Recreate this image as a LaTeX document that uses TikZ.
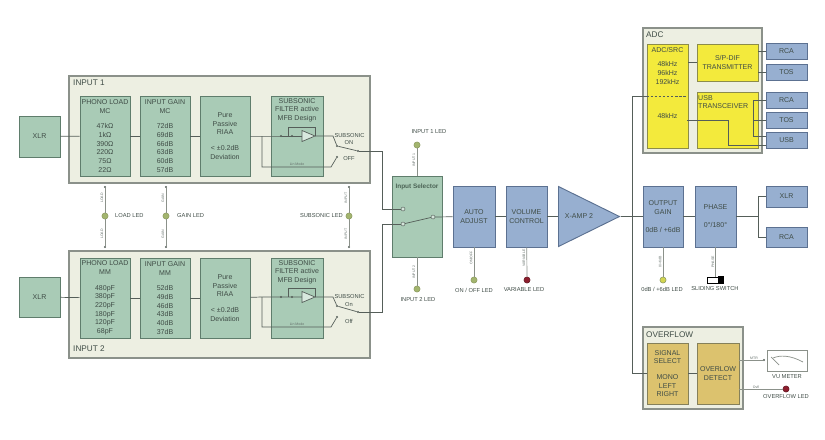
\documentclass[tikz,border=0pt]{standalone}
\usepackage{fontspec}
\setmainfont{Liberation Sans}
\usepackage{xcolor}
\usetikzlibrary{arrows.meta, calc, positioning, shapes.geometric}
\definecolor{mPanel}{HTML}{EDEFE2}
\definecolor{mPanelLine}{HTML}{8B918A}
\definecolor{mGreen}{HTML}{A9CBB6}
\definecolor{mGreenLine}{HTML}{5F7D6C}
\definecolor{mBlue}{HTML}{97AFD0}
\definecolor{mBlueLine}{HTML}{5C7191}
\definecolor{mYellow}{HTML}{F3EA3C}
\definecolor{mYellowLine}{HTML}{8C8C4A}
\definecolor{mTan}{HTML}{DCC26E}
\definecolor{mTanLine}{HTML}{85805A}
\definecolor{mWire}{HTML}{555E59}
\definecolor{mInk}{HTML}{3F4C46}
\definecolor{mLed}{HTML}{A3B56E}
\definecolor{mLedRed}{HTML}{8E1E2E}
\tikzset{
  panel/.style={draw=mPanelLine, fill=mPanel, line width=1pt, inner sep=0pt},
  txtbox/.style={align=center, text=mInk, inner sep=0pt, font=\fontsize{6}{7.4}\selectfont},
  greenbox/.style={txtbox, draw=mGreenLine, fill=mGreen, line width=0.8pt},
  bluebox/.style={txtbox, draw=mBlueLine, fill=mBlue, line width=0.8pt},
  yellowbox/.style={txtbox, draw=mYellowLine, fill=mYellow, line width=0.8pt},
  tanbox/.style={txtbox, draw=mTanLine, fill=mTan, line width=0.8pt},
  tallbox/.style={minimum width=1.5cm, minimum height=2.4cm},
  ledon/.style={circle, draw=mLed!85!black, fill=mLed, line width=0.5pt, minimum size=5.2pt, inner sep=0pt},
  ledred/.style={ledon, draw=mLedRed!70!black, fill=mLedRed},
  tag/.style={text=mInk, inner sep=0pt, font=\fontsize{4.9}{5.8}\selectfont},
  titletag/.style={text=mInk, inner sep=0pt, font=\fontsize{7}{8}\selectfont},
  nettag/.style={text=mInk!80, inner sep=0pt, rotate=90, font=\fontsize{3}{3.5}\selectfont},
  wiretag/.style={text=mInk!80, inner sep=0pt, font=\fontsize{3}{3.5}\selectfont},
  wire/.style={mWire, line width=0.6pt},
  ledwire/.style={mPanelLine, line width=0.6pt},
  dot/.style={circle, fill=mWire, minimum size=2pt, inner sep=0pt},
  pin/.style={circle, draw=mWire, fill=mGreen!50!white, line width=0.4pt, minimum size=3.4pt, inner sep=0pt}
}
\begin{document}
\begin{tikzpicture}[x=0.03cm, y=-0.03cm]
  \useasboundingbox (0,0) rectangle (825,439);
  % input panels
  \node[panel, minimum width=9.03cm, minimum height=3.21cm] (inA) at (219.5,129.5) {};
  \node[panel, minimum width=9.03cm, minimum height=3.21cm] (inB) at (219.5,304.5) {};
  \node[titletag, anchor=west] (inAname) at (73,83) {INPUT 1};
  \node[titletag, anchor=west] (inBname) at (73,349) {INPUT 2};
  % input 1 chain
  \node[greenbox, minimum width=1.23cm, minimum height=1.23cm] (xlrA) at (39.5,136.5) {XLR};
  \node[greenbox, tallbox] (loadA) at (105,136) {PHONO LOAD\\MC\\[6pt]47kΩ\\1kΩ\\390Ω\\220Ω\\75Ω\\22Ω};
  \node[greenbox, tallbox] (gainA) at (165,136) {INPUT GAIN\\MC\\[6pt]72dB\\69dB\\66dB\\63dB\\60dB\\57dB};
  \node[greenbox, tallbox] (riaaA) at (225,136) {Pure\\Passive\\RIAA\\[6pt]< ±0.2dB\\Deviation};
  \node[greenbox, tallbox, minimum width=1.56cm] (subsA) at (297,136) {};
  \node[txtbox, anchor=north] (subsAtxt) at (297,98) {SUBSONIC\\FILTER active\\MFB Design};
  % input 2 chain
  \node[greenbox, minimum width=1.23cm, minimum height=1.2cm] (xlrB) at (39.5,297) {XLR};
  \node[greenbox, tallbox] (loadB) at (105,298) {PHONO LOAD\\MM\\[6pt]480pF\\380pF\\220pF\\180pF\\120pF\\68pF};
  \node[greenbox, tallbox] (gainB) at (165,298) {INPUT GAIN\\MM\\[6pt]52dB\\49dB\\46dB\\43dB\\40dB\\37dB};
  \node[greenbox, tallbox] (riaaB) at (225,298) {Pure\\Passive\\RIAA\\[6pt]< ±0.2dB\\Deviation};
  \node[greenbox, tallbox, minimum width=1.56cm] (subsB) at (297,298) {};
  \node[txtbox, anchor=north] (subsBtxt) at (297,260) {SUBSONIC\\FILTER active\\MFB Design};
  % main path
  \node[greenbox, minimum width=1.5cm, minimum height=2.43cm] (select) at (417,216.5) {};
  \node[txtbox, font=\fontsize{5.5}{7}\selectfont\bfseries, text=mGreenLine!80!black] (selecttxt) at (417,187) {Input Selector};
  \node[bluebox, minimum width=1.26cm, minimum height=1.83cm] (auto) at (474,216.5) {AUTO\\ADJUST};
  \node[bluebox, minimum width=1.23cm, minimum height=1.83cm] (volume) at (526.5,216.5) {VOLUME\\CONTROL};
  \node[isosceles triangle, isosceles triangle stretches, draw=mBlueLine, fill=mBlue, line width=0.8pt,
        minimum width=1.8cm, minimum height=1.83cm, inner sep=0pt, anchor=lower side] (xamp) at (558,216.5) {};
  \node[txtbox] (xamptxt) at (579,216.5) {X-AMP 2};
  \node[bluebox, minimum width=1.2cm, minimum height=1.83cm] (outgain) at (663,216.5) {OUTPUT\\GAIN\\[8pt]0dB / +6dB};
  \node[bluebox, minimum width=1.23cm, minimum height=1.83cm] (phase) at (715.5,216.5) {PHASE\\[8pt]0°/180°};
  \node[bluebox, minimum width=1.23cm, minimum height=0.63cm] (xlrOut) at (786.5,196.5) {XLR};
  \node[bluebox, minimum width=1.23cm, minimum height=0.6cm] (rcaOut) at (786.5,237) {RCA};
  % adc
  \node[panel, minimum width=3.57cm, minimum height=3.75cm] (adc) at (702.5,90.5) {};
  \node[titletag, anchor=west] (adcname) at (646,35) {ADC};
  \node[yellowbox, minimum width=1.23cm, minimum height=3.12cm, anchor=north] (src) at (667.5,44) {};
  \node[txtbox, anchor=north] (srctxt) at (667.5,47) {ADC/SRC\\[5pt]48kHz\\96kHz\\192kHz};
  \node[txtbox] (srctxtB) at (667.5,116) {48kHz};
  \node[yellowbox, minimum width=1.83cm, minimum height=1.11cm] (spdif) at (727.5,62.5) {S/P-DIF\\TRANSMITTER};
  \node[yellowbox, minimum width=1.83cm, minimum height=1.68cm] (usb) at (727.5,120) {};
  \node[txtbox, anchor=north west, align=left] (usbtxt) at (698,95) {USB\\TRANSCEIVER};
  \node[bluebox, minimum width=1.23cm, minimum height=0.48cm] (rcaA) at (786.5,51.5) {RCA};
  \node[bluebox, minimum width=1.23cm, minimum height=0.48cm] (tosA) at (786.5,72) {TOS};
  \node[bluebox, minimum width=1.23cm, minimum height=0.48cm] (rcaB) at (786.5,100) {RCA};
  \node[bluebox, minimum width=1.23cm, minimum height=0.48cm] (tosB) at (786.5,120) {TOS};
  \node[bluebox, minimum width=1.23cm, minimum height=0.48cm] (usbOut) at (786.5,140.5) {USB};
  % overflow
  \node[panel, minimum width=3cm, minimum height=2.46cm] (over) at (693,368) {};
  \node[titletag, anchor=west] (overname) at (646,335) {OVERFLOW};
  \node[tanbox, minimum width=1.23cm, minimum height=1.83cm] (signal) at (667.5,373.5) {SIGNAL\\SELECT\\[6pt]MONO\\LEFT\\RIGHT};
  \node[tanbox, minimum width=1.26cm, minimum height=1.83cm] (detect) at (718,373.5) {OVERLOW\\DETECT};
  \node[draw=mPanelLine, fill=white, line width=0.7pt, minimum width=1.2cm, minimum height=0.63cm, inner sep=0pt] (vu) at (787,360.5) {};
  \node[tag] (vuname) at (787,377) {VU METER};
  % front end wires
  \draw[wire] (xlrA) -- (loadA);
  \draw[wire] (loadA) -- (gainA);
  \draw[wire] (gainA) -- (riaaA);
  \draw[wire] (xlrB) -- (loadB);
  \draw[wire] (loadB) -- (gainB);
  \draw[wire] (gainB) -- (riaaB);
  \node[pin] (selInA) at (403,209) {};
  \node[pin] (selInB) at (403,224) {};
  \node[pin] (selOut) at (433,217) {};
  % subsonic filter and its switch
  \foreach \sw/\mid/\low/\onp/\offp/\outp/\onlab/\offlab/\ontxt/\offtxt in
      {A/136/167/146/157/151/143/159/ON/OFF, B/297/327/306/317/312/305/321/On/Off} {
    \node[dot] (dotA\sw) at (281,\mid) {};
    \node[dot] (dotB\sw) at (292,\mid) {};
    \coordinate (fork\sw) at (262,\mid);
    \coordinate (amp\sw) at (302,\mid);
    \coordinate (ampOut\sw) at (315,\mid);
    \coordinate (fb\sw) at (288,\mid);
    \coordinate (forkLow\sw) at (262,\low);
    \coordinate (offLow\sw) at (331,\low);
    \coordinate (onHigh\sw) at (333,\mid);
    \node[dot] (swOn\sw) at (337,\onp) {};
    \node[dot] (swOff\sw) at (337,\offp) {};
    \node[dot] (swOut\sw) at (358,\outp) {};
    \draw[wire] (riaa\sw) -- (fork\sw) -- (amp\sw);
    \draw[wire, fill=mGreen!45!white] (amp\sw) ++(0,-5.5) -- ++(13,5.5) -- ++(-13,5.5) -- cycle;
    \draw[wire] (fb\sw) -- ++(0,-9) -| (ampOut\sw);
    \draw[wire] (ampOut\sw) -- (onHigh\sw) -- (swOn\sw);
    \draw[wire] (fork\sw) -- (forkLow\sw) -- (offLow\sw) -- (swOff\sw);
    \draw[wire] (swOn\sw) -- (swOut\sw);
    \node[wiretag] (lin\sw) at (297,{\low-3}) {Lin Mode};
    \node[tag] (subsName\sw) at (349.5,\mid) {SUBSONIC};
    \node[tag] (onName\sw) at (349,\onlab) {\ontxt};
    \node[tag] (offName\sw) at (349,\offlab) {\offtxt};
  }
  % selector
  \draw[wire] (swOutA) -| (382,209) -- (selInA);
  \draw[wire] (swOutB) -| (382,224) -- (selInB);
  \draw[wire] (selInB) -- (selOut);
  \draw[wire] (selOut) -- (auto);
  \draw[wire] (auto) -- (volume);
  \draw[wire] (volume) -- (xamp);
  \draw[wire] (xamp.apex) -- (outgain);
  \draw[wire] (outgain) -- (phase);
  % outputs
  \coordinate (forkOut) at (758,216.5);
  \draw[wire] (phase) -- (forkOut);
  \draw[wire] (xlrOut) -| (forkOut);
  \draw[wire] (rcaOut) -| (forkOut);
  % tap to adc and overflow
  \coordinate (tapTop) at (632,96);
  \coordinate (tapBot) at (632,373.5);
  \coordinate (srcEnd) at (687,96);
  \draw[wire] (tapTop) -- (tapBot) -- (signal);
  \draw[wire] (tapTop) -- (src.west |- tapTop);
  \draw[wire, dashed, dash pattern=on 2pt off 1.5pt] (src.west |- tapTop) -- (srcEnd);
  \draw[wire] (signal) -- (detect);
  % adc wires
  \draw[wire] (src.east |- spdif) -- (spdif);
  \draw[wire] (spdif.east |- rcaA) -- (rcaA);
  \draw[wire] (spdif.east |- tosA) -- (tosA);
  \coordinate (usbBus) at (753,100);
  \coordinate (usbBusB) at (753,120);
  \coordinate (usbBusC) at (753,136);
  \coordinate (usbTurn) at (728,120);
  \coordinate (usbTurnB) at (728,145);
  \coordinate (srcOut) at (687,120);
  \draw[wire] (usbBus) -- (rcaB);
  \draw[wire] (usbBusB) -- (tosB);
  \draw[wire] (usbBus) -- (usbBusC) -- (usbOut.west |- usbBusC);
  \draw[wire] (srcOut) -- (usbTurn) -- (usbTurnB) -- (usbOut.west |- usbTurnB);
  % leds between the inputs
  \foreach \led/\xx/\net in {load/105/LOAD, gain/166/GAIN, subs/349/INPUT} {
    \node[ledon] (\led Led) at (\xx,216) {};
    \node[dot] (\led Top) at (\xx,187) {};
    \node[dot] (\led Bot) at (\xx,247) {};
    \draw[ledwire] (\led Top) -- (\led Led);
    \draw[ledwire] (\led Led) -- (\led Bot);
    \node[nettag] (\led TagA) at ({\xx-3},198) {\net};
    \node[nettag] (\led TagB) at ({\xx-3},234) {\net};
  }
  \node[tag, anchor=west] (loadName) at (115,216) {LOAD LED};
  \node[tag, anchor=west] (gainName) at (177,216) {GAIN LED};
  \node[tag, anchor=east] (subsName) at (343,216) {SUBSONIC LED};
  % leds on the main path
  \node[ledon] (inLedA) at (417,145) {};
  \node[ledon] (inLedB) at (417,289) {};
  \node[ledon] (autoLed) at (474,280) {};
  \node[ledred] (volLed) at (527,280) {};
  \node[ledon, fill=mYellow!60!mLed] (gainLed) at (663,280) {};
  \draw[ledwire] (inLedA) -- (select);
  \draw[ledwire] (inLedB) -- (select);
  \draw[ledwire] (autoLed) -- (auto);
  \draw[ledwire] (volLed) -- (volume);
  \draw[ledwire] (gainLed) -- (outgain);
  \node[nettag] (inTagA) at (414,160) {INPUT 1};
  \node[nettag] (inTagB) at (414,272) {INPUT 2};
  \node[nettag] (autoTag) at (471,258) {ON/OFF};
  \node[nettag] (volTag) at (524,258) {VARIABLE};
  \node[nettag] (gainTag) at (660,262) {0/+6dB};
  \node[nettag] (phaseTag) at (713,262) {PHASE};
  \node[tag] (inNameA) at (429,132) {INPUT 1 LED};
  \node[tag] (inNameB) at (418,300) {INPUT 2 LED};
  \node[tag] (autoName) at (474,290) {ON / OFF LED};
  \node[tag] (volName) at (524,290) {VARIABLE LED};
  \node[tag] (gainName) at (662,289) {0dB / +6dB LED};
  % sliding switch
  \node[draw=black, fill=white, line width=0.7pt, minimum width=0.5cm, minimum height=0.18cm, inner sep=0pt] (slide) at (715.5,280) {};
  \node[fill=black, minimum width=0.2cm, minimum height=0.24cm, inner sep=0pt] (slideKnob) at (721,280) {};
  \draw[ledwire] (slide.north |- phase.south) -- (slide);
  \node[tag] (slideName) at (715,289) {SLIDING SWITCH};
  % overflow outputs
  \node[dot] (vuPin) at (764,360) {};
  \node[ledred] (overLed) at (786,389) {};
  \draw[ledwire] (detect.east |- vuPin) -- (vuPin);
  \draw[ledwire] (detect.east |- overLed) -- (overLed);
  \node[wiretag] (vuTag) at (754,358) {MTR};
  \node[wiretag] (overTag) at (756,387) {Ovfl};
  \node[tag] (overName) at (786,397) {OVERFLOW LED};
  \draw[mPanelLine, line width=0.6pt] (771,357) -- (779,365);
  \draw[mPanelLine, line width=0.6pt] (773,358) .. controls (780,355) and (790,355) .. (803,362);
\end{tikzpicture}
\end{document}
